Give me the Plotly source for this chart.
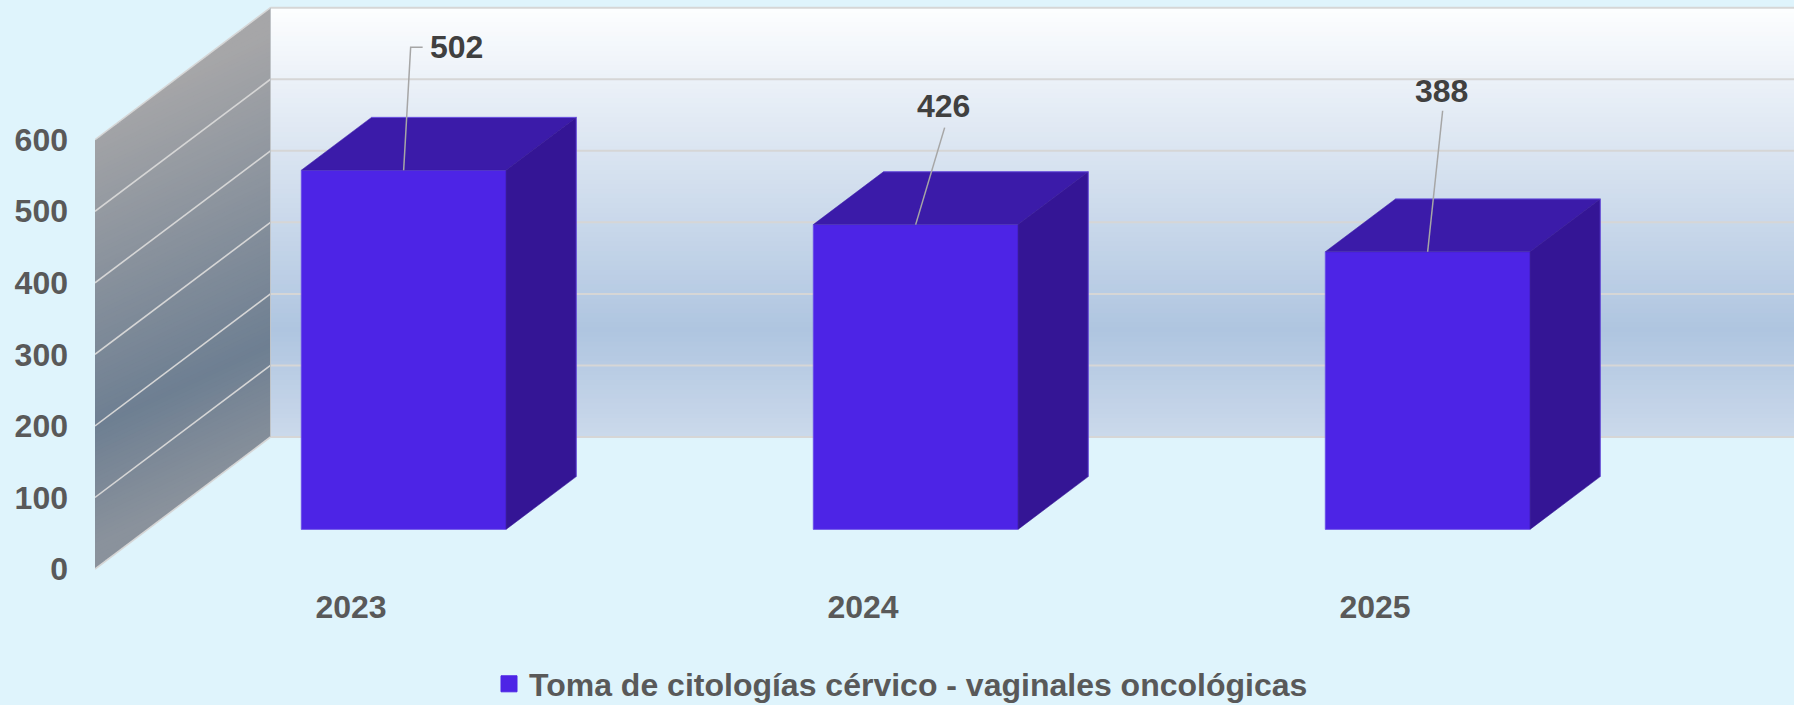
import plotly.graph_objects as go

# ---- data ----
years = ["2023", "2024", "2025"]
values = [502, 426, 388]
series_name = "Toma de citologías cérvico - vaginales oncológicas"
y_ticks = [0, 100, 200, 300, 400, 500, 600]

# ---- figure geometry ----
W, H = 1794, 705
PLOT_L, PLOT_B = 95, 585
PX_PER_SLOT = 512.0          # one category width, px
PX_PER_UNIT = 0.7155         # px per value unit
ZERO_PX = 569.0              # pixel row of value 0 on front plane
DEPTH_X = 175.5 / PX_PER_SLOT       # total wall depth, in category units
DEPTH_Y = 132.0 / PX_PER_UNIT       # total wall depth, in value units
BAR_W = 0.4
D_FRONT, D_BACK = 0.3, 0.7   # bar depth positions
Y_MAX_AXIS = 600

x_range = [-0.5, -0.5 + (W - PLOT_L) / PX_PER_SLOT]
y_range = [(ZERO_PX - PLOT_B) / PX_PER_UNIT, ZERO_PX / PX_PER_UNIT]


def proj(i, v, d):
    """category index, value, depth -> axis coordinates (oblique projection)"""
    return i + d * DEPTH_X, v + d * DEPTH_Y


def px_dx(p):
    return p / PX_PER_SLOT


def px_dy(p):
    return p / PX_PER_UNIT


def mix(stops, t):
    t = max(t, stops[0][0])
    for (a, ca), (b, cb) in zip(stops, stops[1:]):
        if t <= b:
            f = (t - a) / (b - a)
            c = [round(ca[k] + (cb[k] - ca[k]) * f) for k in range(3)]
            return f"rgb({c[0]},{c[1]},{c[2]})"
    return f"rgb({stops[-1][1][0]},{stops[-1][1][1]},{stops[-1][1][2]})"


BG = "#DFF4FC"
FRONT, TOP, SIDE, EDGE = "#4D24E6", "#3B1BA9", "#341595", "#6B50E8"
GRID = "#D6D6D6"
AXIS_TXT, LABEL_TXT = "#595959", "#404040"
FONT = "Liberation Sans"
FS = 32

# t = 0 at value 600, t = 1 at value 0
BACK_STOPS = [(0, (253, 254, 255)), (0.75, (175, 197, 224)), (1, (203, 217, 235))]
SIDE_STOPS = [(0, (166, 166, 168)), (0.725, (110, 127, 146)), (1, (138, 146, 156))]
SIDE_SKEW = -0.116   # side-wall gradient runs a little steeper than the wall itself

shapes = []
N = 90
x_left = -0.5
x_wall = x_left + DEPTH_X
x_right = x_range[1]


def poly(pts):
    return "M" + " L".join(f"{a},{b}" for a, b in pts) + " Z"


def clamp(v):
    return min(max(v, 0), Y_MAX_AXIS)


for k in range(N):
    t0, t1 = k / N, (k + 1) / N
    v_hi = Y_MAX_AXIS * (1 - t0)
    v_lo = max(Y_MAX_AXIS * (1 - t1) - 1.5, 0)
    # back wall strip
    shapes.append(dict(type="rect", layer="below", xref="x", yref="y", line=dict(width=0),
                       fillcolor=mix(BACK_STOPS, (t0 + t1) / 2),
                       x0=x_wall, x1=x_right, y0=v_lo + DEPTH_Y, y1=v_hi + DEPTH_Y))

# left wall strips: bands of constant colour clamped to the wall
depths = [j / 10 for j in range(11)]
M = 110
T_MIN, T_MAX = SIDE_SKEW * 0.5, 1 - SIDE_SKEW * 0.5
for k in range(M):
    T0 = T_MIN + (T_MAX - T_MIN) * k / M
    T1 = T_MIN + (T_MAX - T_MIN) * (k + 1) / M
    up = [clamp(Y_MAX_AXIS * (1 - T0 + SIDE_SKEW * (d - 0.5))) for d in depths]
    lo = [clamp(Y_MAX_AXIS * (1 - T1 + SIDE_SKEW * (d - 0.5)) - 1.5) for d in depths]
    pts = [proj(x_left, u, d) for u, d in zip(up, depths)] + \
          [proj(x_left, l, d) for l, d in zip(reversed(lo), reversed(depths))]
    shapes.append(dict(type="path", layer="below", xref="x", yref="y", line=dict(width=0),
                       fillcolor=mix(SIDE_STOPS, (T0 + T1) / 2), path=poly(pts)))

# grid lines on both walls
for v in y_ticks:
    shapes.append(dict(type="line", layer="below", xref="x", yref="y", line=dict(color=GRID, width=1.6),
                       x0=x_left, y0=v, x1=x_wall, y1=v + DEPTH_Y))
    shapes.append(dict(type="line", layer="below", xref="x", yref="y", line=dict(color=GRID, width=2),
                       x0=x_wall, y0=v + DEPTH_Y, x1=x_right, y1=v + DEPTH_Y))
# wall edges
shapes.append(dict(type="line", layer="below", xref="x", yref="y", line=dict(color="#C0C4C8", width=1),
                   x0=x_wall, y0=DEPTH_Y, x1=x_wall, y1=Y_MAX_AXIS + DEPTH_Y))

fig = go.Figure()

# bar front faces
xs_front = [i + D_FRONT * DEPTH_X for i in range(len(years))]
fig.add_trace(go.Bar(x=xs_front, y=values, base=D_FRONT * DEPTH_Y, width=BAR_W,
                     marker=dict(color=FRONT, line=dict(width=0)),
                     showlegend=False, hoverinfo="skip"))

# bar tops and sides
for i, v in enumerate(values):
    xl, xr = i - BAR_W / 2, i + BAR_W / 2
    top = [proj(xl, v, D_FRONT), proj(xr, v, D_FRONT), proj(xr, v, D_BACK), proj(xl, v, D_BACK)]
    side = [proj(xr, 0, D_FRONT), proj(xr, 0, D_BACK), proj(xr, v, D_BACK), proj(xr, v, D_FRONT)]
    for pts, col in ((top, TOP), (side, SIDE)):
        pts = pts + pts[:1]
        fig.add_trace(go.Scatter(x=[p[0] for p in pts], y=[p[1] for p in pts], mode="lines",
                                 fill="toself", fillcolor=col, line=dict(color=col, width=0.5),
                                 showlegend=False, hoverinfo="skip"))
    # lighter outer edges only
    runs = [[proj(xl, 0, D_FRONT), proj(xl, v, D_FRONT)],
            [proj(xl, 0, D_FRONT), proj(xr, 0, D_FRONT)],
            [proj(xl, v, D_BACK), proj(xr, v, D_BACK), proj(xr, 0, D_BACK)]]
    ex, ey = [], []
    for run in runs:
        ex += [p[0] for p in run] + [None]
        ey += [p[1] for p in run] + [None]
    fig.add_trace(go.Scatter(x=ex, y=ey, mode="lines", line=dict(color=EDGE, width=0.8),
                             showlegend=False, hoverinfo="skip"))

# data-label placement relative to each bar's front-top centre, px (right, up)
label_offsets = [(53, 120.5), (28, 115.5), (14, 157.5)]
leader_ends = [[(7, 123), (19, 123)], [(29, 97)], [(15, 141)]]

for i, v in enumerate(values):
    ax, ay = proj(i, v, D_FRONT)
    lx = [ax] + [ax + px_dx(e[0]) for e in leader_ends[i]]
    ly = [ay] + [ay + px_dy(e[1]) for e in leader_ends[i]]
    fig.add_trace(go.Scatter(x=lx, y=ly, mode="lines", line=dict(color="#A6A6A6", width=1.5),
                             showlegend=False, hoverinfo="skip"))
    ox, oy = label_offsets[i]
    fig.add_trace(go.Scatter(x=[ax + px_dx(ox)], y=[ay + px_dy(oy)], mode="text", text=[str(v)],
                             textposition="middle center",
                             textfont=dict(family=FONT, size=FS, color=LABEL_TXT, weight=700),
                             showlegend=False, hoverinfo="skip"))

# legend entry
fig.add_trace(go.Scatter(x=[None], y=[None], mode="markers", name=series_name,
                         marker=dict(symbol="square", size=16, color=FRONT, line=dict(width=1, color=FRONT))))

fig.update_layout(
    width=W, height=H,
    paper_bgcolor=BG, plot_bgcolor=BG,
    margin=dict(l=PLOT_L, r=0, t=0, b=H - PLOT_B, pad=0, autoexpand=False),
    shapes=shapes,
    showlegend=True,
    legend=dict(x=(489 - PLOT_L) / (W - PLOT_L), y=(PLOT_B - 684) / PLOT_B, xanchor="left", yanchor="middle",
                bgcolor="rgba(0,0,0,0)", borderwidth=0,
                font=dict(family=FONT, size=FS, color=AXIS_TXT, weight=700), itemsizing="trace"),
    xaxis=dict(range=x_range, tickmode="array", tickvals=list(range(len(years))), ticktext=years,
               showgrid=False, zeroline=False, showline=False, ticks="",
               tickfont=dict(family=FONT, size=FS, color=AXIS_TXT, weight=700)),
    yaxis=dict(range=y_range, tickmode="array", tickvals=y_ticks,
               showgrid=False, zeroline=False, showline=False, ticks="", ticklabelstandoff=26,
               tickfont=dict(family=FONT, size=FS, color=AXIS_TXT, weight=700)),
)

fig.write_html("out.html", config=dict(displayModeBar=False),
               post_script="document.body.style.margin='0';document.body.style.background='#DFF4FC';document.body.style.overflow='hidden';")
